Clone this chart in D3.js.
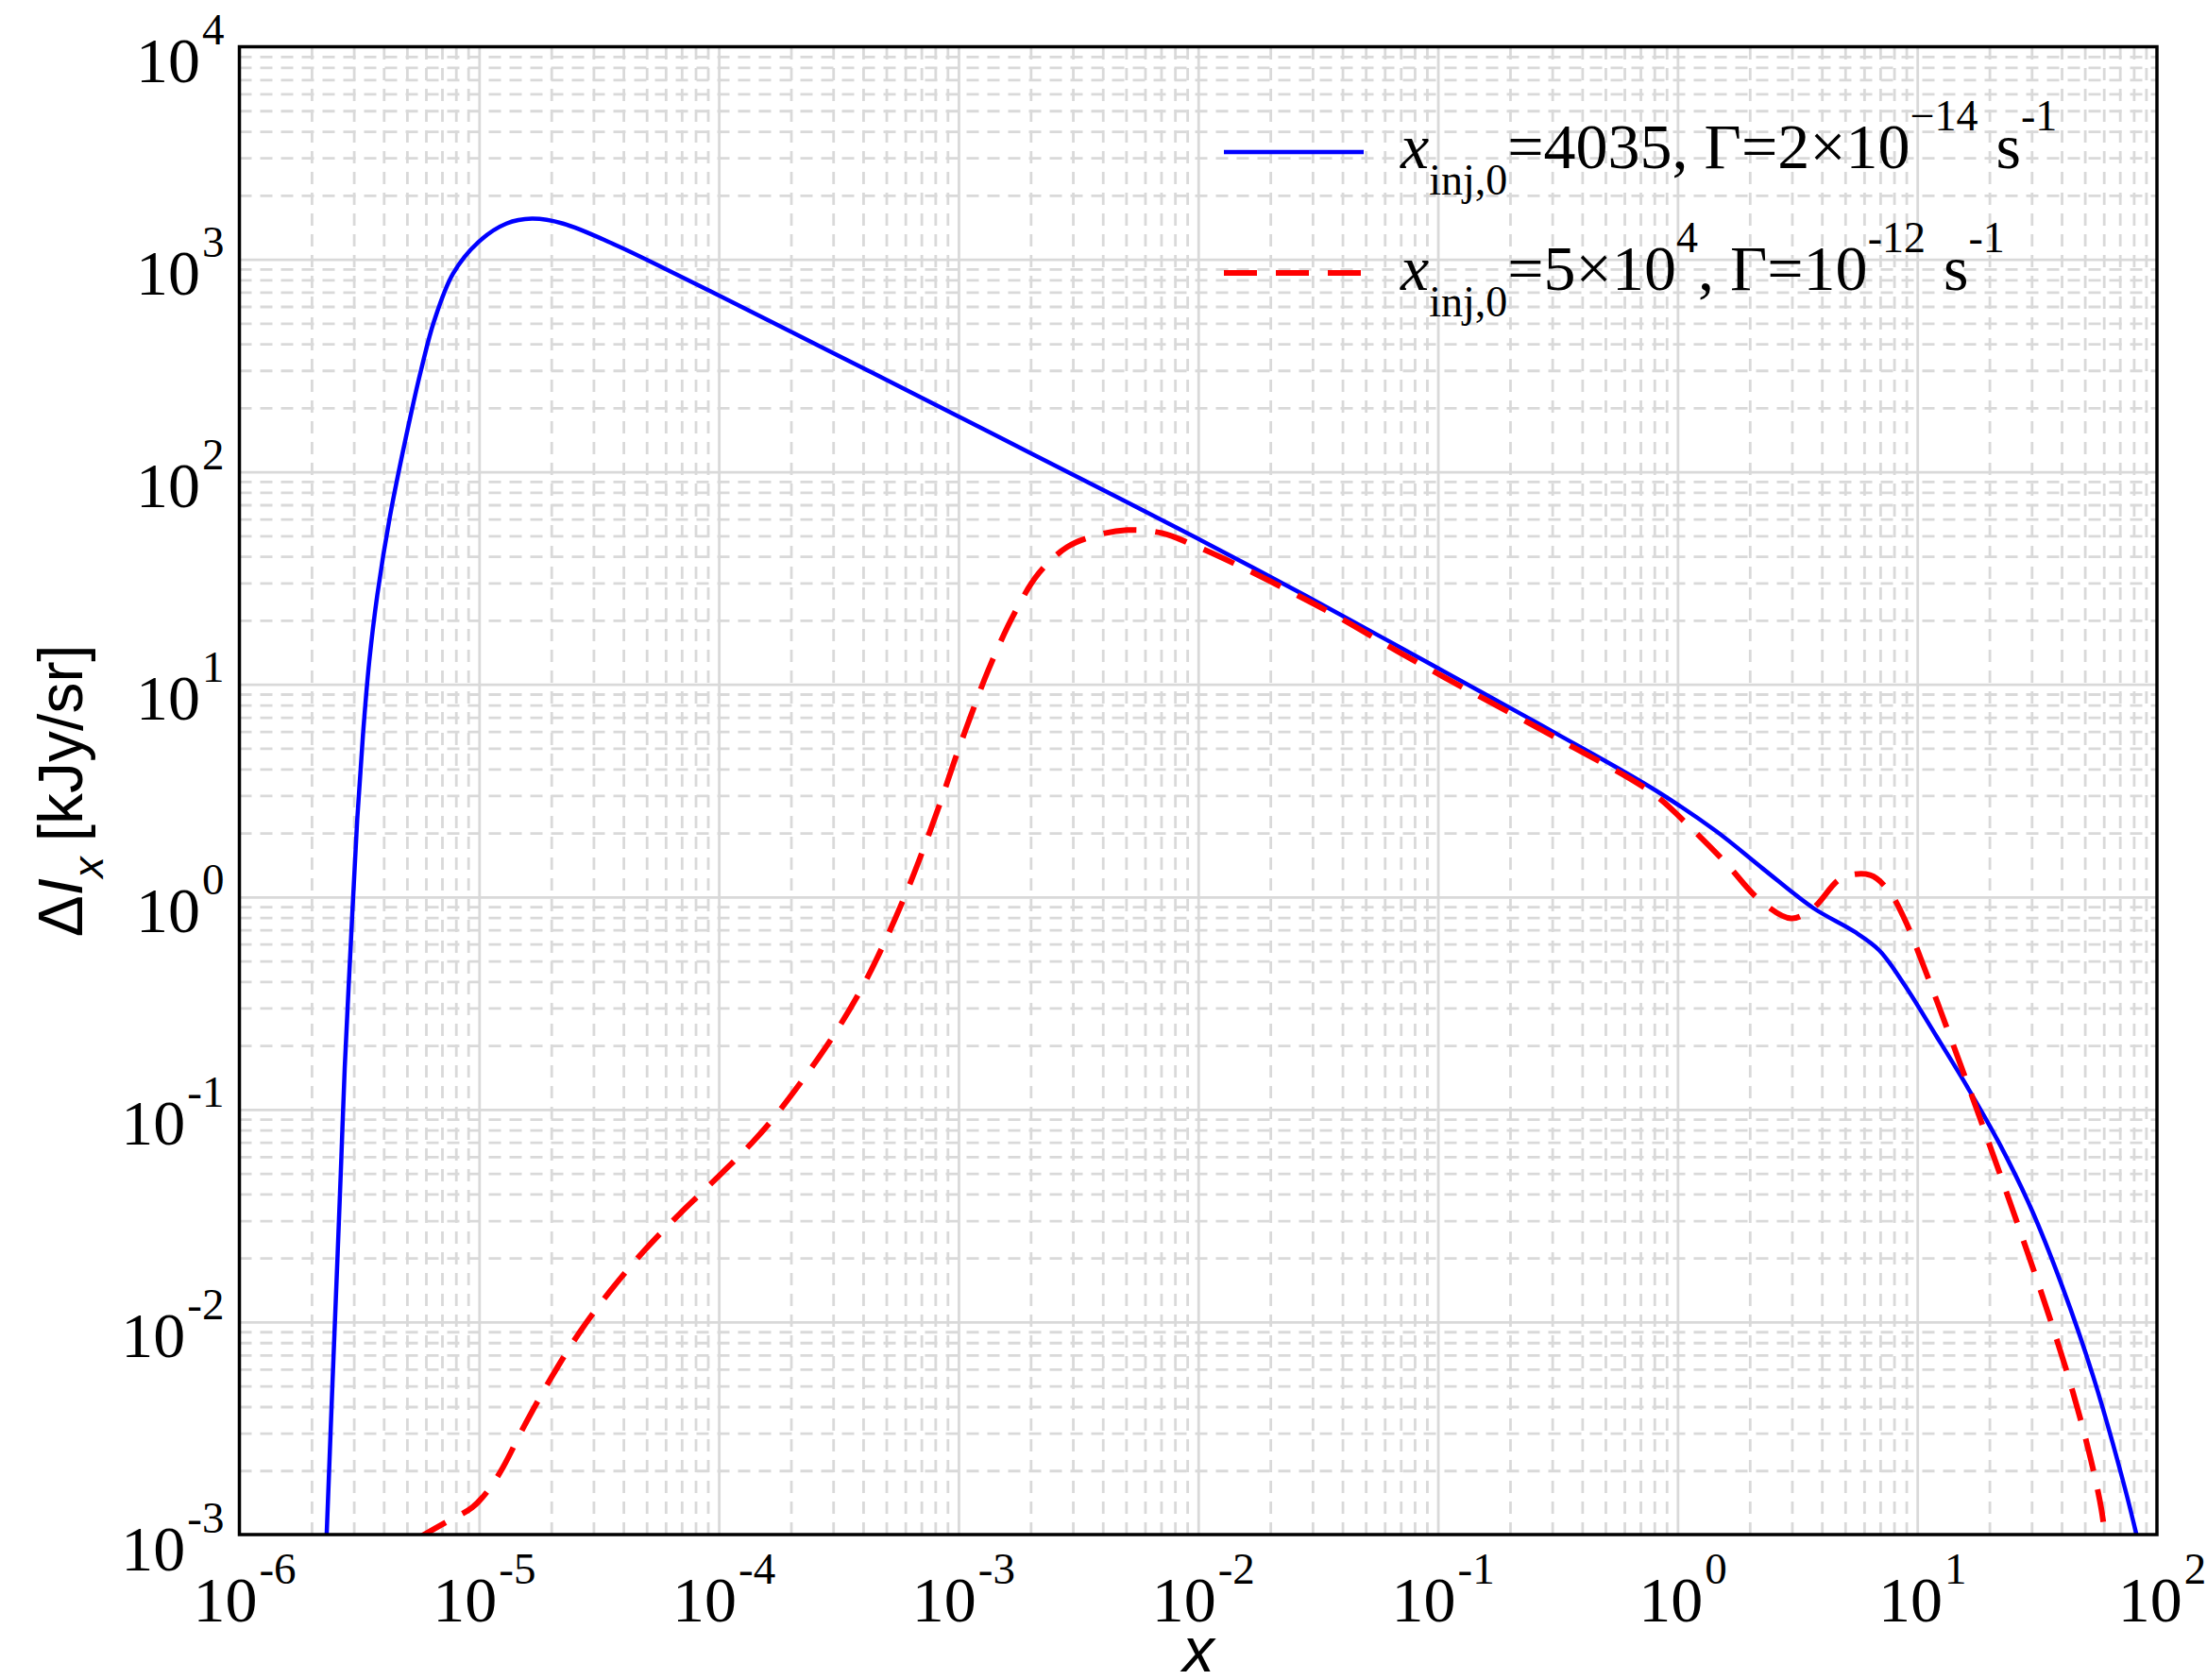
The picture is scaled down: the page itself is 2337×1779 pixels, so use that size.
<!DOCTYPE html>
<html>
<head>
<meta charset="utf-8">
<script src="https://cdn.jsdelivr.net/npm/d3@7"></script>
<style>
  body { margin: 0; background: #fff; }
  svg { display: block; }
</style>
</head>
<body>
<div id="chart"></div>
<script>
// decade ticks and their exponents
const xTicks = [1e-6, 1e-5, 1e-4, 1e-3, 1e-2, 1e-1, 1e0, 1e1, 1e2];
const xTickExp = ["-6", "-5", "-4", "-3", "-2", "-1", "0", "1", "2"];
const yTicks = [1e-3, 1e-2, 1e-1, 1e0, 1e1, 1e2, 1e3, 1e4];
const yTickExp = ["-3", "-2", "-1", "0", "1", "2", "3", "4"];

// x_inj,0 = 4035, Gamma = 2e-14 /s
const blueX = [2.30e-6, 2.44e-6, 2.57e-6, 2.66e-6, 2.75e-6, 2.92e-6, 3.10e-6, 3.28e-6, 3.48e-6, 3.76e-6,
  4.25e-6, 5.18e-6, 5.75e-6, 6.49e-6, 7.78e-6, 9.91e-6, 1.30e-5, 1.66e-5, 2.24e-5, 3.75e-5,
  5.90e-5, 9.29e-5, 3.16e-4, 1.0e-3, 2.04e-3, 1.0e-2, 2.83e-2, 0.149, 0.316, 0.787,
  1.442, 2.270, 3.681, 5.458, 6.950, 8.851, 11.97, 16.22, 21.93, 29.65,
  40.18, 54.33, 73.45, 84.14];
const blueY = [8.51e-4, 4.84e-3, 2.10e-2, 5.75e-2, 0.156, 0.621, 2.291, 5.861, 12.76, 26.30,
  61.94, 184.1, 306.9, 511.7, 855.1, 1202, 1472, 1552, 1472, 1161,
  907.8, 704.7, 351.6, 182.4, 121.1, 48.42, 26.0, 9.311, 5.821, 3.236,
  2.046, 1.358, 0.887, 0.687, 0.560, 0.385, 0.223, 0.127, 6.97e-2, 3.48e-2,
  1.48e-2, 5.50e-3, 1.66e-3, 8.91e-4];

// x_inj,0 = 5e4, Gamma = 1e-12 /s
const redX = [5.50e-6, 7.35e-6, 9.35e-6, 1.09e-5, 1.26e-5, 1.52e-5, 1.99e-5, 2.62e-5, 3.54e-5, 4.93e-5,
  6.89e-5, 9.91e-5, 1.38e-4, 1.66e-4, 2.24e-4, 3.02e-4, 3.98e-4, 4.99e-4, 6.17e-4, 7.28e-4,
  8.47e-4, 9.86e-4, 1.13e-3, 1.33e-3, 1.70e-3, 2.16e-3, 2.84e-3, 3.73e-3, 5.05e-3, 7.05e-3,
  9.82e-3, 1.55e-2, 2.43e-2, 3.83e-2, 7.00e-2, 0.128, 0.316, 0.787, 1.067, 1.581,
  2.203, 2.979, 3.681, 4.831, 6.353, 7.603, 8.851, 10.94, 13.12, 15.74,
  18.28, 21.93, 27.93, 35.56, 43.95, 52.72, 58.61, 60.95];
const redY = [9.55e-4, 1.15e-3, 1.34e-3, 1.61e-3, 2.08e-3, 3.14e-3, 5.42e-3, 8.91e-3, 1.41e-2, 2.19e-2,
  3.24e-2, 4.81e-2, 7.00e-2, 8.87e-2, 0.138, 0.224, 0.378, 0.635, 1.102, 1.782,
  2.858, 4.721, 7.194, 11.64, 21.28, 33.27, 44.26, 50.12, 53.21, 51.52,
  44.67, 35.24, 27.29, 20.80, 14.03, 9.638, 5.559, 3.076, 2.265, 1.455,
  0.966, 0.793, 0.887, 1.225, 1.268, 1.069, 0.787, 0.4345, 0.2518, 0.1445,
  9.08e-2, 5.12e-2, 2.36e-2, 1.06e-2, 4.95e-3, 2.31e-3, 1.32e-3, 9.55e-4];

const width = 2337, height = 1779;
const margin = {top: 49.5, right: 53, bottom: 154, left: 253.5};
const pw = width - margin.left - margin.right,
  ph = height - margin.top - margin.bottom;

const serif = "'Liberation Serif', 'Times New Roman', serif";
const sans = "'Liberation Sans', Arial, sans-serif";
const gridColor = "#d9d9d9";

let x = d3.scaleLog().domain([1e-6, 1e2]).range([0, pw]);
let y = d3.scaleLog().domain([1e-3, 1e4]).range([ph, 0]);

const isMajor = v => Math.abs(Math.log10(v) - Math.round(Math.log10(v))) < 1e-9;

let svg = d3.select("#chart").append("svg")
  .attr("width", width).attr("height", height);

let g = svg.append("g")
  .attr("transform", "translate(" + margin.left + "," + margin.top + ")");

svg.append("defs").append("clipPath").attr("id", "plotclip")
  .append("rect").attr("width", pw).attr("height", ph);

// minor grid (dashed), then major grid (solid)
function grid(axis, values, dashed) {
  let gg = g.append("g")
    .call(axis.tickValues(values).tickFormat(""));
  gg.select(".domain").remove();
  gg.selectAll(".tick line")
    .attr("stroke", gridColor)
    .attr("stroke-width", 2.8)
    .attr("stroke-dasharray", dashed ? "13,9" : null);
  return gg;
}
const xMinor = x.ticks().filter(v => !isMajor(v));
const yMinor = y.ticks().filter(v => !isMajor(v));
grid(d3.axisBottom(x).tickSize(-ph), xMinor, true).attr("transform", "translate(0," + ph + ")");
grid(d3.axisLeft(y).tickSize(-pw), yMinor, true);
grid(d3.axisBottom(x).tickSize(-ph), xTicks.slice(1, -1), false).attr("transform", "translate(0," + ph + ")");
grid(d3.axisLeft(y).tickSize(-pw), yTicks.slice(1, -1), false);

// curves
let line = d3.line()
  .x(d => x(d[0]))
  .y(d => y(d[1]))
  .curve(d3.curveCatmullRom.alpha(0.5));

let curves = g.append("g").attr("clip-path", "url(#plotclip)");
curves.append("path")
  .datum(blueX.map((v, i) => [v, blueY[i]]))
  .attr("d", line)
  .attr("fill", "none")
  .attr("stroke", "#0000ff")
  .attr("stroke-width", 4.5);
curves.append("path")
  .datum(redX.map((v, i) => [v, redY[i]]))
  .attr("d", line)
  .attr("fill", "none")
  .attr("stroke", "#ff0000")
  .attr("stroke-width", 6)
  .attr("stroke-dasharray", "35,20");

// frame
g.append("rect")
  .attr("width", pw).attr("height", ph)
  .attr("fill", "none")
  .attr("stroke", "#000")
  .attr("stroke-width", 3.5);

// tick labels as 10^n
function powerLabels(sel, exps, ticks) {
  sel.select(".domain").remove();
  sel.selectAll(".tick line").remove();
  sel.selectAll(".tick text").each(function(d) {
    let t = d3.select(this).text(null)
      .attr("font-family", serif)
      .attr("font-size", 68)
      .attr("fill", "#000");
    t.append("tspan").text("10");
    t.append("tspan")
      .attr("font-size", 47)
      .attr("dx", 2)
      .attr("dy", -40)
      .text(exps[ticks.indexOf(d)]);
  });
}

let xAxisG = g.append("g")
  .attr("transform", "translate(0," + ph + ")")
  .call(d3.axisBottom(x).tickValues(xTicks).tickSize(0).tickFormat(() => "x"));
powerLabels(xAxisG, xTickExp, xTicks);
xAxisG.selectAll(".tick text").attr("y", 92).attr("dy", 0).attr("dx", 5);

let yAxisG = g.append("g")
  .call(d3.axisLeft(y).tickValues(yTicks).tickSize(0).tickFormat(() => "y"));
powerLabels(yAxisG, yTickExp, yTicks);
yAxisG.selectAll(".tick text").attr("x", -16).attr("y", 37).attr("dy", 0);

// axis titles
svg.append("text")
  .attr("x", 1269).attr("y", 1770)
  .attr("text-anchor", "middle")
  .attr("font-family", sans)
  .attr("font-style", "italic")
  .attr("font-size", 67)
  .text("x");

let yt = svg.append("text")
  .attr("transform", "translate(87," + (margin.top + ph / 2) + ") rotate(-90)")
  .attr("text-anchor", "middle")
  .attr("font-family", sans)
  .attr("font-size", 66);
yt.append("tspan").text("Δ");
yt.append("tspan").attr("font-style", "italic").text("I");
yt.append("tspan").attr("font-style", "italic").attr("font-size", 45).attr("dy", 22).text("x");
yt.append("tspan").attr("dy", -22).attr("dx", 16).text("[kJy/sr]");

// legend
const legendX = 1296, legendLen = 148, textX = 1483;
function legendText(ty, parts) {
  let t = svg.append("text")
    .attr("x", textX).attr("y", ty)
    .attr("font-family", serif)
    .attr("font-size", 68);
  parts.forEach(p => {
    let s = t.append("tspan").text(p.s);
    if (p.it) s.attr("font-style", "italic");
    if (p.fs) s.attr("font-size", p.fs);
    if (p.dy) s.attr("dy", p.dy);
    if (p.dx) s.attr("dx", p.dx);
  });
}
svg.append("line")
  .attr("x1", legendX).attr("x2", legendX + legendLen)
  .attr("y1", 161).attr("y2", 161)
  .attr("stroke", "#0000ff").attr("stroke-width", 4.5);
svg.append("line")
  .attr("x1", legendX).attr("x2", legendX + legendLen)
  .attr("y1", 289).attr("y2", 289)
  .attr("stroke", "#ff0000").attr("stroke-width", 6)
  .attr("stroke-dasharray", "35,20");

legendText(178, [
  {s: "x", it: true},
  {s: "inj,0", fs: 46, dy: 28},
  {s: "=4035, Γ=2×10", dy: -28},
  {s: "−14", fs: 46, dy: -40},
  {s: "s", dy: 40, dx: 19},
  {s: "-1", fs: 46, dy: -40}
]);
legendText(307, [
  {s: "x", it: true},
  {s: "inj,0", fs: 46, dy: 28},
  {s: "=5×10", dy: -28},
  {s: "4", fs: 46, dy: -40},
  {s: ", Γ=10", dy: 40},
  {s: "-12", fs: 46, dy: -40},
  {s: "s", dy: 40, dx: 19},
  {s: "-1", fs: 46, dy: -40}
]);
</script>
</body>
</html>
